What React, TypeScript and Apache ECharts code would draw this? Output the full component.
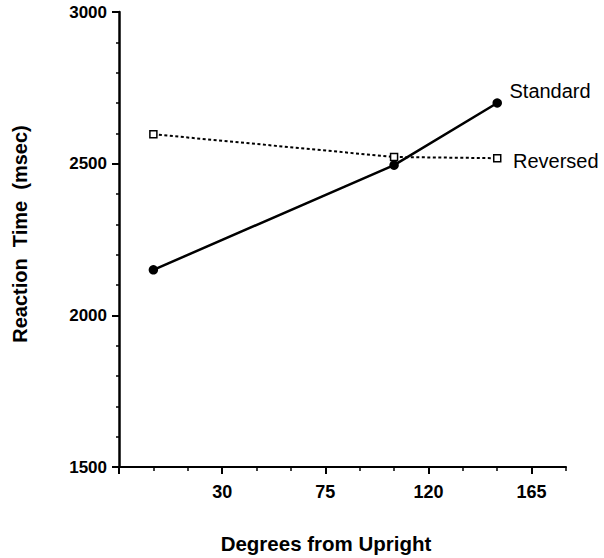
import React, { useEffect, useRef } from "react";
import * as echarts from "echarts";

const degrees = [0, 105, 150];
const standardRT = [2150, 2495, 2700];
const reversedRT = [2597, 2522, 2518];
const xTickLabels = [30, 75, 120, 165];
const xMajorTicks = [-15, 30, 75, 120, 165];
const yTickLabels = [1500, 2000, 2500, 3000];
const seriesNames = ["Standard", "Reversed"];
const xTitle = "Degrees from Upright";
const yTitle = "Reaction  Time  (msec)";

const FONT = "'Liberation Sans', Arial, Helvetica, sans-serif";

export default function App() {
  const ref = useRef<HTMLDivElement>(null);
  useEffect(() => {
    const chart = echarts.init(ref.current as HTMLDivElement, null, { renderer: "svg" });
    const last = degrees.length - 1;
    const mk = (vals: number[], labelOffset: number[]) =>
      degrees.map((d, i) =>
        i === last
          ? {
              value: [d, vals[i]],
              label: {
                show: true,
                position: "right",
                distance: 0,
                offset: labelOffset,
                formatter: "{a}",
                fontFamily: FONT,
                fontSize: 20,
                color: "#000",
                verticalAlign: "middle",
              },
            }
          : { value: [d, vals[i]] }
      );
    chart.setOption({
      animation: false,
      backgroundColor: "#fff",
      grid: { left: 119, right: 38, top: 12, bottom: 91, outerBoundsMode: "none", containLabel: false },
      xAxis: [
        {
          type: "value",
          min: -15,
          max: 180,
          interval: 45,
          position: "bottom",
          axisLine: { show: true, onZero: false, lineStyle: { color: "#000", width: 2 } },
          axisTick: { show: true, length: 7, customValues: xMajorTicks, lineStyle: { color: "#000", width: 2 } },
          axisLabel: {
            customValues: xTickLabels,
            formatter: (v: number) => (xTickLabels.includes(v) ? String(v) : ""),
            margin: 16,
            fontSize: 18,
            fontWeight: "bold",
            color: "#000",
            fontFamily: FONT,
          },
          splitLine: { show: false },
        },
        {
          type: "value",
          min: -15,
          max: 180,
          interval: 15,
          position: "bottom",
          axisLine: { show: false, onZero: false },
          axisTick: { show: true, length: 4, lineStyle: { color: "#000", width: 1.5 } },
          axisLabel: { show: false },
          splitLine: { show: false },
        },
      ],
      yAxis: {
        type: "value",
        min: yTickLabels[0],
        max: yTickLabels[yTickLabels.length - 1],
        interval: 500,
        axisLine: { show: true, onZero: false, lineStyle: { color: "#000", width: 2.5 } },
        axisTick: { show: true, length: 7, lineStyle: { color: "#000", width: 2 } },
        minorTick: { show: true, splitNumber: 5, length: 3, lineStyle: { color: "#000", width: 1.5 } },
        axisLabel: {
          formatter: (v: number) => String(v),
          margin: 12,
          fontSize: 17,
          fontWeight: "bold",
          color: "#000",
          fontFamily: FONT,
        },
        splitLine: { show: false },
        minorSplitLine: { show: false },
      },
      graphic: [
        {
          type: "text",
          x: 326,
          y: 543,
          style: {
            text: xTitle,
            fontFamily: FONT,
            fontSize: 20.5,
            fontWeight: "bold",
            fill: "#000",
            align: "center",
            verticalAlign: "middle",
          },
        },
        {
          type: "text",
          x: 20,
          y: 234,
          rotation: Math.PI / 2,
          style: {
            text: yTitle,
            fontFamily: FONT,
            fontSize: 20,
            fontWeight: "bold",
            fill: "#000",
            align: "center",
            verticalAlign: "middle",
          },
        },
      ],
      series: [
        {
          name: seriesNames[0],
          type: "line",
          xAxisIndex: 0,
          data: mk(standardRT, [7.5, -12.5]),
          symbol: "circle",
          symbolSize: 9.5,
          itemStyle: { color: "#000" },
          lineStyle: { color: "#000", width: 2.5, type: "solid" },
          z: 2,
        },
        {
          name: seriesNames[1],
          type: "line",
          xAxisIndex: 0,
          data: mk(reversedRT, [11.5, 2.5]),
          symbol: "rect",
          symbolSize: 7,
          itemStyle: { color: "#fff", borderColor: "#000", borderWidth: 1.5 },
          lineStyle: { color: "#000", width: 2, type: [3, 2.5] },
          z: 3,
        },
      ],
    });
    return () => chart.dispose();
  }, []);
  return <div ref={ref} style={{ position: "fixed", left: 0, top: 0, width: 604, height: 558 }} />;
}
